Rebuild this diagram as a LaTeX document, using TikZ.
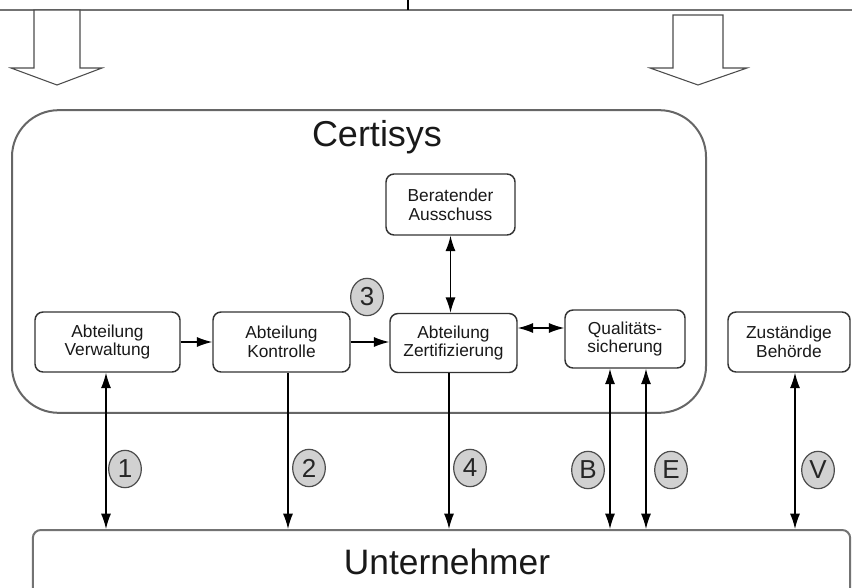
\documentclass[tikz,border=0pt]{standalone}
\usepackage{fontspec}
\setmainfont{Liberation Sans}
\usetikzlibrary{arrows.meta,shapes.geometric}
\begin{document}
\begin{tikzpicture}[x=0.75pt,y=-0.75pt,
  box/.style={draw=black!80,line width=1.1pt,rounded corners=6pt,fill=white,align=center,
    font=\fontsize{13}{14}\selectfont,inner sep=0pt,text=black!90},
  num/.style={ellipse,draw=black!70,line width=0.9pt,fill=black!18,minimum width=24.5pt,
    minimum height=28pt,inner sep=0pt,font=\fontsize{19.5}{19.5}\selectfont,text=black!85},
  con/.style={line width=1pt,-{Latex[length=11.5pt,width=7.5pt]}},
  bicon/.style={line width=1pt,{Latex[length=11.5pt,width=7.5pt]}-{Latex[length=11.5pt,width=7.5pt]}},
  blockarrow/.style={draw=black!70,line width=0.8pt,fill=white},
  frame/.style={draw=black!60,line width=1.5pt,inner sep=0pt}
]
\useasboundingbox (0,0) rectangle (852,588);
\clip (0,0) rectangle (852,588);
% top line and block arrows
\draw[black!55,line width=1.5pt] (0,10) -- (852,10);
\draw[black,line width=0.8pt] (408,0) -- (408,10);
\draw[blockarrow] (34,10) -- (34,68) -- (11,68) -- (57,85) -- (102,68) -- (80,68) -- (80,10) -- cycle;
\draw[blockarrow] (673,15) -- (673,68) -- (650,68) -- (698,85) -- (747,68) -- (723,68) -- (723,15) -- cycle;
% Certisys frame
\node[frame,rounded corners=35pt,minimum width=520.5pt,minimum height=227pt] (certisys) at (359,261.5) {};
\node[font=\fontsize{27}{27}\selectfont,text=black!90] (title) at (377,137) {Certisys};
% boxes
\node[box,minimum width=108.75pt,minimum height=45pt] (verw) at (107.5,342) {Abteilung\\Verwaltung};
\node[box,minimum width=102.75pt,minimum height=45pt] (kon) at (281.5,342) {Abteilung\\Kontrolle};
\node[box,minimum width=95.25pt,minimum height=44.25pt] (zert) at (453.5,343) {Abteilung\\Zertifizierung};
\node[box,minimum width=96.75pt,minimum height=45.75pt] (ber) at (450.5,204.5) {Beratender\\Ausschuss};
\node[box,minimum width=90pt,minimum height=43.5pt] (qual) at (625,339) {Qualitäts-\\sicherung};
\node[box,minimum width=91.5pt,minimum height=45pt] (beh) at (789,342) {Zuständige\\Behörde};
% Unternehmer
\node[frame,draw=black!55,rounded corners=6pt,minimum width=613pt,minimum height=60pt] (unt) at (441.5,570) {};
\node[font=\fontsize{26.5}{26.5}\selectfont,text=black!90] (untlabel) at (447,562) {Unternehmer};
% x positions of vertical connectors
\coordinate (x1) at (106,0);
\coordinate (x2) at (288,0);
\coordinate (x4) at (449,0);
\coordinate (xB) at (610,0);
\coordinate (xE) at (646,0);
\coordinate (xV) at (795,0);
\coordinate (yq) at (0,328);
% connectors
\draw[con] (verw) -- (kon);
\draw[con] (kon) -- (kon -| zert.west);
\draw[bicon] (ber.south) -- (ber.south |- zert.north);
\draw[bicon] (zert.east |- yq) -- (qual.west |- yq);
\draw[bicon] (verw.south -| x1) -- (unt.north -| x1);
\draw[con] (kon.south -| x2) -- (unt.north -| x2);
\draw[con] (zert.south -| x4) -- (unt.north -| x4);
\draw[bicon] (qual.south -| xB) -- (unt.north -| xB);
\draw[bicon] (qual.south -| xE) -- (unt.north -| xE);
\draw[bicon] (beh.south -| xV) -- (unt.north -| xV);
% numbered markers
\node[num] (n1) at (125,469) {1};
\node[num] (n2) at (309,468) {2};
\node[num] (n3) at (367,297) {3};
\node[num] (n4) at (470,468) {4};
\node[num] (nB) at (588,470) {B};
\node[num] (nE) at (671,470) {E};
\node[num] (nV) at (818,470) {V};
\end{tikzpicture}
\end{document}
